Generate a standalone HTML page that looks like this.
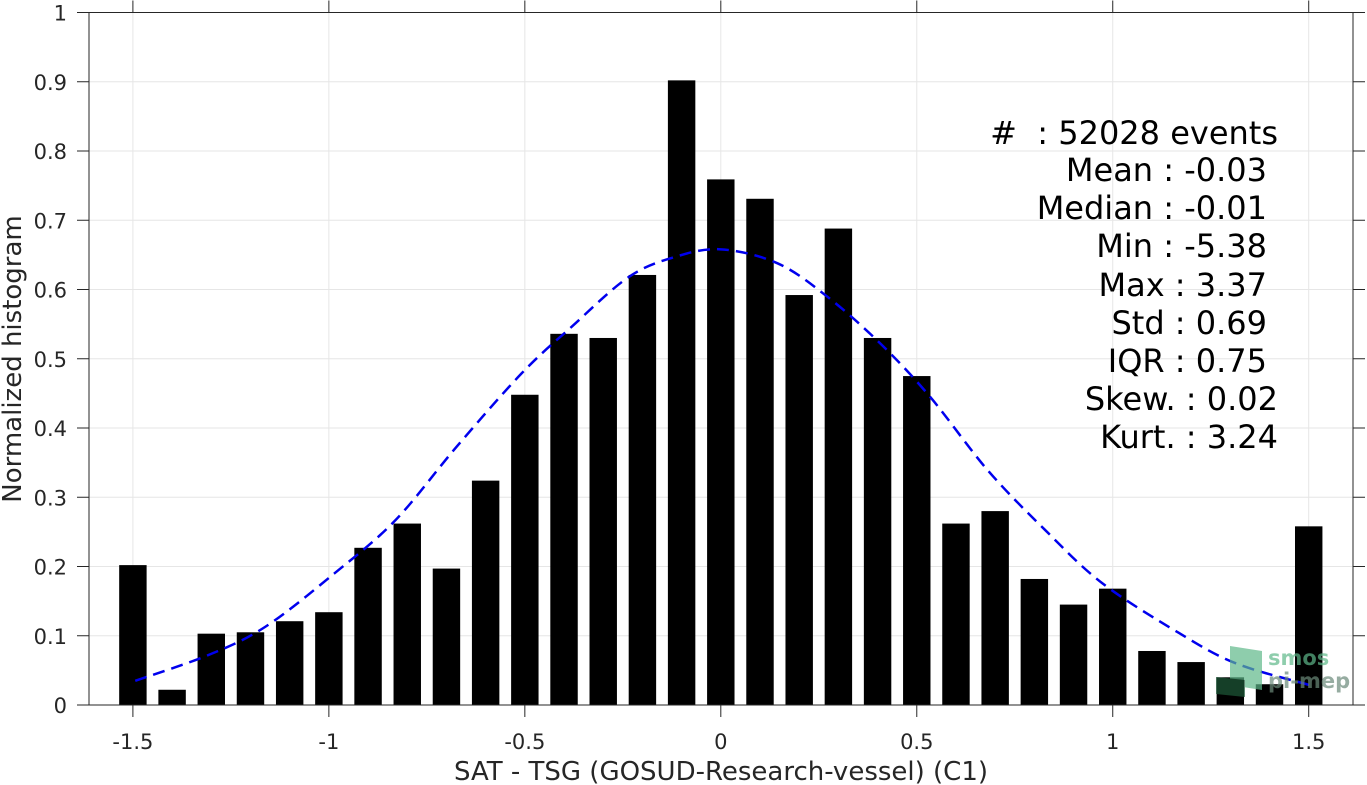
<!DOCTYPE html>
<html><head><meta charset="utf-8"><style>
body{margin:0;background:#fff;}
svg{display:block;font-family:"DejaVu Sans","Liberation Sans",sans-serif;}
</style></head><body>
<svg id="chart" width="1367" height="785">
<g id="grid"></g>
<g id="bars"></g>
<path id="fit" fill="none" stroke="#0000ee" stroke-width="2.5" stroke-dasharray="12,7"/>
<g id="axes"></g>
<g font-size="32" fill="#000" text-anchor="end">
<text x="1278" y="144"># &#160;: 52028 events</text>
<text x="1267" y="181">Mean : -0.03</text>
<text x="1267" y="219">Median : -0.01</text>
<text x="1267" y="257">Min : -5.38</text>
<text x="1267" y="296">Max : 3.37</text>
<text x="1267" y="334">Std : 0.69</text>
<text x="1267" y="372">IQR : 0.75</text>
<text x="1278" y="410">Skew. : 0.02</text>
<text x="1278" y="448">Kurt. : 3.24</text>
</g>
<g opacity="0.7">
<polygon points="1230,646 1262,651 1262,690 1230,685" fill="#5fb88a"/>
<polygon points="1216,677 1245,680 1245,697 1216,694" fill="#1f5a3a"/>
<text x="1268" y="665" font-size="21" font-weight="bold" fill="#5fb88a">smos</text>
<text x="1268" y="688" font-size="21" font-weight="bold" fill="#6b8a7a">pi-mep</text>
</g>
<text x="721" y="780" font-size="26" fill="#262626" text-anchor="middle">SAT - TSG (GOSUD-Research-vessel) (C1)</text>
<text transform="translate(21,359) rotate(-90)" font-size="26" fill="#262626" text-anchor="middle">Normalized histogram</text>
</svg>
<script>
const binCenters=[-1.5,-1.4,-1.3,-1.2,-1.1,-1.0,-0.9,-0.8,-0.7,-0.6,-0.5,-0.4,-0.3,-0.2,-0.1,0,0.1,0.2,0.3,0.4,0.5,0.6,0.7,0.8,0.9,1.0,1.1,1.2,1.3,1.4,1.5];
const binValues=[0.202,0.022,0.103,0.105,0.121,0.134,0.227,0.262,0.197,0.324,0.448,0.536,0.530,0.621,0.902,0.759,0.731,0.592,0.688,0.530,0.475,0.262,0.280,0.182,0.145,0.168,0.078,0.062,0.040,0.030,0.258];
const fitX=[-1.494,-1.308,-1.162,-0.986,-0.830,-0.674,-0.508,-0.381,-0.235,-0.117,0,0.144,0.271,0.407,0.534,0.681,0.827,0.973,1.169,1.315,1.501];
const fitY=[0.035,0.072,0.113,0.190,0.267,0.373,0.479,0.546,0.618,0.647,0.658,0.638,0.590,0.522,0.445,0.339,0.253,0.176,0.104,0.060,0.029];
const xTicks=[-1.5,-1,-0.5,0,0.5,1,1.5];
const xTickLabels=["-1.5","-1","-0.5","0","0.5","1","1.5"];
const yTicks=[0,0.1,0.2,0.3,0.4,0.5,0.6,0.7,0.8,0.9,1];
const yTickLabels=["0","0.1","0.2","0.3","0.4","0.5","0.6","0.7","0.8","0.9","1"];

const L=89,R=1353,T=12.5,B=705,XMIN=-1.612,XMAX=1.613;
const sx=v=>L+(v-XMIN)/(XMAX-XMIN)*(R-L);
const sy=v=>B-v*(B-T);
const NS="http://www.w3.org/2000/svg";
function mk(tag,parent,attrs){const e=document.createElementNS(NS,tag);for(const k in attrs)e.setAttribute(k,attrs[k]);parent.appendChild(e);return e;}
const grid=document.getElementById('grid'),axes=document.getElementById('axes'),bars=document.getElementById('bars');
xTicks.forEach((t,i)=>{
  const g=mk('line',grid,{x1:sx(t),x2:sx(t),y1:T,y2:B,stroke:'#e6e6e6','stroke-width':1});
  
  
  const a=mk('line',axes,{x1:sx(t),x2:sx(t),y1:B,y2:B+12,stroke:'#262626','stroke-width':1});
  
  
  const b=mk('line',axes,{x1:sx(t),x2:sx(t),y1:T,y2:T-12,stroke:'#262626','stroke-width':1});
  
  
  const l=mk('text',axes,{x:sx(t),y:B+44,'font-size':21,fill:'#262626','text-anchor':'middle'});
  l.textContent=xTickLabels[i];
  
  
});
yTicks.forEach((t,i)=>{
  const g=mk('line',grid,{x1:L,x2:R,y1:sy(t),y2:sy(t),stroke:'#e6e6e6','stroke-width':1});
  
  
  const a=mk('line',axes,{x1:L-12,x2:L,y1:sy(t),y2:sy(t),stroke:'#262626','stroke-width':1});
  
  
  const b=mk('line',axes,{x1:R,x2:R+12,y1:sy(t),y2:sy(t),stroke:'#262626','stroke-width':1});
  
  
  const l=mk('text',axes,{x:L-22,y:sy(t)+8,'font-size':21,fill:'#262626','text-anchor':'end'});
  l.textContent=yTickLabels[i];
  
  
});
const bw=0.07;
binCenters.forEach((c,i)=>{
  const x0=sx(c-bw/2),x1=sx(c+bw/2);
  const r=mk('rect',bars,{x:x0,y:sy(binValues[i]),width:x1-x0,height:B-sy(binValues[i]),fill:'#000'});
  
  
});
const pts=fitX.map((x,i)=>[sx(x),sy(fitY[i])]);
let d='M'+pts[0][0]+','+pts[0][1];
for(let i=0;i<pts.length-1;i++){
  const p0=pts[Math.max(0,i-1)],p1=pts[i],p2=pts[i+1],p3=pts[Math.min(pts.length-1,i+2)];
  const c1=[p1[0]+(p2[0]-p0[0])/6,p1[1]+(p2[1]-p0[1])/6],c2=[p2[0]-(p3[0]-p1[0])/6,p2[1]-(p3[1]-p1[1])/6];
  d+=' C'+c1+' '+c2+' '+p2;
}
document.getElementById('fit').setAttribute('d',d);
const box=mk('rect',axes,{x:L,y:T,width:R-L,height:B-T,fill:'none',stroke:'#262626','stroke-width':1});


</script>
</body></html>
